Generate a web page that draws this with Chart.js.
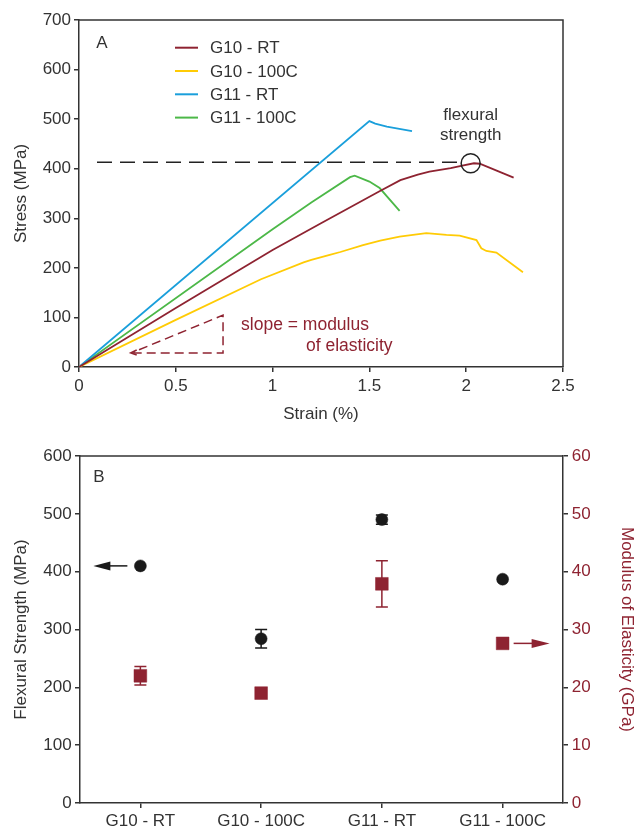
<!DOCTYPE html>
<html><head><meta charset="utf-8">
<script src="https://cdn.jsdelivr.net/npm/chart.js@4.4.0/dist/chart.umd.min.js"></script>
<style>
html,body{margin:0;padding:0;background:#fff;}
#wrap{position:relative;width:641px;height:829px;overflow:hidden;background:#fff}
#ca{position:absolute;left:0;top:0}
#cb{position:absolute;left:0;top:430px}
</style></head><body>
<div id="wrap"><canvas id="ca" width="641" height="430"></canvas><canvas id="cb" width="641" height="399"></canvas></div>
<script>
// ---------- Panel A data ----------
const seriesNames = ['G10 - RT', 'G10 - 100C', 'G11 - RT', 'G11 - 100C'];
const seriesColors = ['#8E2331', '#FFCB05', '#1A9FDB', '#4CB848'];
const strainG10RT = [0, 0.5, 1.0, 1.25, 1.55, 1.66, 1.75, 1.81, 1.92, 1.98, 2.04, 2.07, 2.245];
const stressG10RT = [0, 119, 236, 290, 354, 377, 388, 394, 401, 406, 411, 410, 382];
const strainG10HT = [0, 0.5, 0.94, 1.16, 1.2, 1.295, 1.35, 1.467, 1.556, 1.656, 1.794, 1.898, 1.966, 2.053, 2.078, 2.104, 2.156, 2.293];
const stressG10HT = [0, 95, 177, 211, 216, 226, 232, 246, 255, 263, 270, 266.5, 265, 256, 239.5, 234, 231, 191];
const strainG11RT = [0, 1.5, 1.53, 1.59, 1.72];
const stressG11RT = [0, 496, 491, 485, 476];
const strainG11HT = [0, 1.0, 1.2, 1.4, 1.424, 1.5, 1.553, 1.656];
const stressG11HT = [0, 278, 332, 383, 386, 374, 361, 315];
const flexStrengthLevel = 413;
const flexPoint = [2.023, 411];
const slopeTriangle = [[0.267, 28.3], [0.744, 28.3], [0.744, 104.6]];

// ---------- Panel B data ----------
const categories = ['G10 - RT', 'G10 - 100C', 'G11 - RT', 'G11 - 100C'];
const flexStrength = [410, 284, 490, 387];
const flexStrengthErr = [0, 16, 8, 0];
const modulus = [22.0, 19.0, 37.9, 27.6];
const modulusErr = [1.6, 0, 4.0, 0];

const FONT = "'Liberation Sans', Arial, sans-serif";
const TXT = '#333333';
const RED = '#8E2331';
const AX = '#333333';

Chart.defaults.font.family = FONT;
Chart.defaults.font.size = 17;
Chart.defaults.color = TXT;

function pts(xs, ys) { return xs.map((v, i) => ({x: v, y: ys[i]})); }

const plugA = {
  id: 'plugA',
  afterDraw(chart) {
    const {ctx, chartArea: a, scales: {x, y}} = chart;
    ctx.save();
    // frame
    ctx.strokeStyle = AX; ctx.lineWidth = 1.5;
    ctx.beginPath(); ctx.moveTo(a.left, a.top); ctx.lineTo(a.right, a.top); ctx.lineTo(a.right, a.bottom); ctx.stroke();
    // flexural strength circle + dashed line
    const cx = x.getPixelForValue(flexPoint[0]), cy = y.getPixelForValue(flexPoint[1]);
    const r = 9.5;
    const ly = y.getPixelForValue(flexStrengthLevel);
    ctx.strokeStyle = '#222'; ctx.lineWidth = 1.5;
    ctx.setLineDash([15, 8]);
    ctx.beginPath(); ctx.moveTo(x.getPixelForValue(0) + 18, ly); ctx.lineTo(cx - r, ly); ctx.stroke();
    ctx.setLineDash([]);
    ctx.beginPath(); ctx.arc(cx, cy, r, 0, Math.PI * 2); ctx.stroke();
    ctx.fillStyle = TXT; ctx.font = '17px ' + FONT; ctx.textAlign = 'center'; ctx.textBaseline = 'middle';
    ctx.fillText('flexural', cx, cy - 48);
    ctx.fillText('strength', cx, cy - 28);
    // slope triangle
    const p = slopeTriangle.map(q => [x.getPixelForValue(q[0]), y.getPixelForValue(q[1])]);
    ctx.strokeStyle = RED; ctx.lineWidth = 1.5; ctx.setLineDash([9, 5]);
    ctx.beginPath(); ctx.moveTo(p[0][0] + 2, p[0][1]); ctx.lineTo(p[1][0], p[1][1]); ctx.lineTo(p[2][0], p[2][1]); ctx.lineTo(p[0][0] + 3, p[0][1] - 1); ctx.stroke();
    ctx.setLineDash([]);
    ctx.beginPath(); ctx.moveTo(p[0][0] + 6, p[0][1] - 3); ctx.lineTo(p[0][0], p[0][1]); ctx.lineTo(p[0][0] + 6, p[0][1] + 2); ctx.stroke();
    ctx.fillStyle = RED; ctx.textAlign = 'left'; ctx.font = '17.5px ' + FONT;
    ctx.fillText('slope = modulus', p[1][0] + 18, p[2][1] + 10);
    ctx.fillText('of elasticity', p[1][0] + 83, p[2][1] + 31);
    // legend
    ctx.font = '17px ' + FONT;
    seriesNames.forEach((n, i) => {
      const yy = 47.7 + i * 23.3;
      ctx.strokeStyle = seriesColors[i]; ctx.lineWidth = 2;
      ctx.beginPath(); ctx.moveTo(175, yy); ctx.lineTo(198, yy); ctx.stroke();
      ctx.fillStyle = TXT; ctx.fillText(n, 210, yy + 1);
    });
    // panel label
    ctx.textAlign = 'center'; ctx.fillStyle = TXT;
    ctx.fillText('A', a.left + 23, a.top + 23);
    ctx.restore();
  }
};

const axisCommon = {
  border: {display: true, color: AX, width: 1.5},
  grid: {display: true, drawOnChartArea: false, drawTicks: true, tickLength: 5, color: AX, lineWidth: 1.5}
};

new Chart(document.getElementById('ca'), {
  type: 'scatter',
  data: {
    datasets: [
      {label: seriesNames[0], data: pts(strainG10RT, stressG10RT), borderColor: seriesColors[0]},
      {label: seriesNames[1], data: pts(strainG10HT, stressG10HT), borderColor: seriesColors[1]},
      {label: seriesNames[2], data: pts(strainG11RT, stressG11RT), borderColor: seriesColors[2]},
      {label: seriesNames[3], data: pts(strainG11HT, stressG11HT), borderColor: seriesColors[3]}
    ].map(d => Object.assign(d, {showLine: true, pointRadius: 0, borderWidth: 1.8, fill: false, tension: 0}))
  },
  options: {
    responsive: false, animation: false, devicePixelRatio: 1,
    layout: {padding: {top: 20, right: 78, left: 0, bottom: 0}},
    plugins: {legend: {display: false}, tooltip: {enabled: false}},
    scales: {
      x: Object.assign({}, axisCommon, {
        type: 'linear', min: 0, max: 2.5,
        ticks: {stepSize: 0.5, padding: 4, color: TXT, callback: v => String(v)},
        title: {display: true, text: 'Strain (%)', color: TXT, padding: {top: 0, bottom: 5}},
        afterFit: s => { s.height = 63; }
      }),
      y: Object.assign({}, axisCommon, {
        type: 'linear', min: 0, max: 700,
        ticks: {stepSize: 100, padding: 3, color: TXT},
        title: {display: true, text: 'Stress (MPa)', color: TXT, padding: {top: 11.5, bottom: 0}},
        afterFit: s => { s.width = 79; }
      })
    }
  },
  plugins: [plugA]
});

// ---------- Panel B ----------
const plugB = {
  id: 'plugB',
  beforeDatasetsDraw(chart) {
    const {ctx, scales: {x, y, y1}} = chart;
    ctx.save();
    ctx.lineWidth = 1.5;
    const drawErr = (vals, errs, sc, col) => {
      ctx.strokeStyle = col;
      vals.forEach((v, i) => {
        if (!errs[i]) return;
        const px = x.getPixelForValue(i);
        const t = sc.getPixelForValue(v + errs[i]), b = sc.getPixelForValue(v - errs[i]);
        ctx.beginPath();
        ctx.moveTo(px, t); ctx.lineTo(px, b);
        ctx.moveTo(px - 6, t); ctx.lineTo(px + 6, t);
        ctx.moveTo(px - 6, b); ctx.lineTo(px + 6, b);
        ctx.stroke();
      });
    };
    drawErr(flexStrength, flexStrengthErr, y, '#1a1a1a');
    drawErr(modulus, modulusErr, y1, RED);
    ctx.restore();
  },
  afterDraw(chart) {
    const {ctx, chartArea: a, scales: {x, y, y1}} = chart;
    ctx.save();
    ctx.strokeStyle = AX; ctx.lineWidth = 1.5;
    ctx.beginPath(); ctx.moveTo(a.left, a.top); ctx.lineTo(a.right, a.top); ctx.stroke();
    // arrow pointing to left axis
    const bx = x.getPixelForValue(0), by = y.getPixelForValue(flexStrength[0]);
    ctx.strokeStyle = '#1a1a1a'; ctx.fillStyle = '#1a1a1a';
    ctx.beginPath(); ctx.moveTo(bx - 13, by); ctx.lineTo(bx - 32, by); ctx.stroke();
    ctx.beginPath(); ctx.moveTo(bx - 47, by); ctx.lineTo(bx - 30, by - 4.5); ctx.lineTo(bx - 30, by + 4.5); ctx.closePath(); ctx.fill();
    // arrow pointing to right axis
    const rx = x.getPixelForValue(3), ry = y1.getPixelForValue(modulus[3]);
    ctx.strokeStyle = RED; ctx.fillStyle = RED;
    ctx.beginPath(); ctx.moveTo(rx + 11, ry); ctx.lineTo(rx + 31, ry); ctx.stroke();
    ctx.beginPath(); ctx.moveTo(rx + 47, ry); ctx.lineTo(rx + 29, ry - 4.5); ctx.lineTo(rx + 29, ry + 4.5); ctx.closePath(); ctx.fill();
    ctx.fillStyle = TXT; ctx.font = '17px ' + FONT; ctx.textAlign = 'center'; ctx.textBaseline = 'middle';
    ctx.fillText('B', a.left + 19, a.top + 21);
    ctx.restore();
  }
};

new Chart(document.getElementById('cb'), {
  type: 'line',
  data: {
    labels: categories,
    datasets: [
      {label: 'Flexural Strength', data: flexStrength, yAxisID: 'y', showLine: false,
       pointStyle: 'circle', pointRadius: 6, pointBackgroundColor: '#1a1a1a', pointBorderColor: '#1a1a1a', pointBorderWidth: 0.5},
      {label: 'Modulus of Elasticity', data: modulus, yAxisID: 'y1', showLine: false,
       pointStyle: 'rect', pointRadius: 9, pointBackgroundColor: RED, pointBorderColor: RED, pointBorderWidth: 0.5}
    ]
  },
  options: {
    responsive: false, animation: false, devicePixelRatio: 1,
    layout: {padding: {top: 26, right: 0, left: 0, bottom: 0}},
    plugins: {legend: {display: false}, tooltip: {enabled: false}},
    scales: {
      x: Object.assign({}, axisCommon, {
        type: 'category', offset: true,
        grid: {display: true, drawOnChartArea: false, drawTicks: true, tickLength: 5, color: AX, lineWidth: 1.5, offset: false},
        ticks: {padding: 3.5, color: TXT, autoSkip: false, maxRotation: 0},
        afterFit: s => { s.height = 26; }
      }),
      y: Object.assign({}, axisCommon, {
        type: 'linear', position: 'left', min: 0, max: 600,
        ticks: {stepSize: 100, padding: 3.3, color: TXT},
        title: {display: true, text: 'Flexural Strength (MPa)', color: TXT, padding: {top: 11.5, bottom: 0}},
        afterFit: s => { s.width = 80; }
      }),
      y1: Object.assign({}, axisCommon, {
        type: 'linear', position: 'right', min: 0, max: 60,
        ticks: {stepSize: 10, padding: 3.7, color: RED},
        title: {display: true, text: 'Modulus of Elasticity (GPa)', color: RED, padding: {top: 4, bottom: 0}},
        afterFit: s => { s.width = 78; }
      })
    }
  },
  plugins: [plugB]
});
</script>
</body></html>
